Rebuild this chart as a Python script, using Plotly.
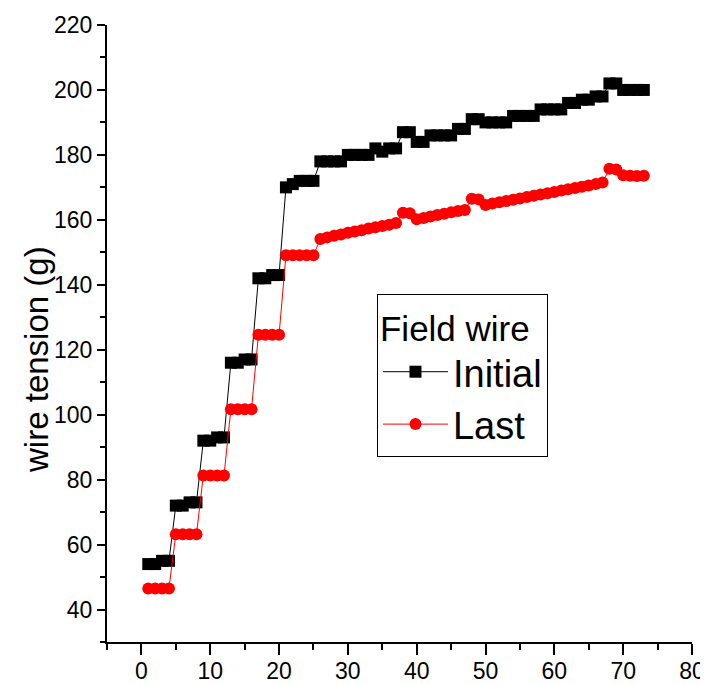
import plotly.graph_objects as go

x_vals = list(range(1, 74))

initial = [54, 54, 55, 55,
           72, 72, 73, 73,
           92, 92, 93, 93,
           116, 116, 117, 117,
           142, 142, 143, 143,
           170, 171, 172, 172, 172,
           178, 178, 178, 178,
           180, 180, 180, 180,
           182, 181, 182, 182,
           187, 187,
           184, 184,
           186, 186, 186, 186,
           188, 188,
           191, 191,
           190, 190, 190, 190,
           192, 192, 192, 192,
           194, 194, 194, 194,
           196, 196,
           197, 197,
           198, 198,
           202, 202,
           200, 200, 200, 200]

last = [46.5, 46.5, 46.5, 46.5,
        63.2, 63.2, 63.2, 63.2,
        81.3, 81.3, 81.3, 81.3,
        101.7, 101.7, 101.7, 101.7,
        124.6, 124.6, 124.6, 124.6,
        149.1, 149.1, 149.1, 149.1, 149.1,
        154.1, 154.6, 155.1, 155.5, 156.0, 156.4, 156.8, 157.3, 157.7, 158.1, 158.5, 159.0,
        162.2, 162.0,
        160.2, 160.6, 161.0, 161.5, 161.9, 162.3, 162.7, 163.0,
        166.5, 166.3,
        164.6, 165.0, 165.4, 165.8, 166.2, 166.6, 167.0, 167.4, 167.8,
        168.2, 168.6, 169.0, 169.4, 169.8, 170.2, 170.6, 171.0, 171.5,
        175.7, 175.5,
        173.7, 173.6, 173.5, 173.6]

y_ticks = [40, 60, 80, 100, 120, 140, 160, 180, 200, 220]
x_ticks = [0, 10, 20, 30, 40, 50, 60, 70, 80]
y_title = "wire tension (g)"

sans = "Liberation Sans, Arial, sans-serif"

fig = go.Figure()
fig.add_trace(go.Scatter(
    x=x_vals, y=initial, name="Initial", mode="lines+markers",
    line=dict(color="black", width=1),
    marker=dict(symbol="square", size=12, color="black"),
))
fig.add_trace(go.Scatter(
    x=x_vals, y=last, name="Last", mode="lines+markers",
    line=dict(color="#ff0000", width=1),
    marker=dict(symbol="circle", size=12, color="#ff0000"),
))

# page body has an 8px margin: figure shifted by 8px, so left/top margins are reduced by 8
fig.update_layout(
    width=700, height=677,
    margin=dict(l=99, r=16, t=17, b=43, autoexpand=False),
    paper_bgcolor="white", plot_bgcolor="white",
    font=dict(family=sans, color="black"),
    showlegend=True,
    legend=dict(
        x=0.4615, y=0.564, xanchor="left", yanchor="top",
        bordercolor="black", borderwidth=1, bgcolor="white",
        font=dict(family=sans, size=38, color="black"),
        title=dict(text="Field wire", font=dict(family=sans, size=35, color="black")),
        itemwidth=65,
        tracegroupgap=0,
    ),
    xaxis=dict(
        range=[-5, 80], tickvals=x_ticks, ticktext=[str(v) for v in x_ticks],
        showgrid=False, zeroline=False, automargin=False,
        showline=True, linecolor="black", linewidth=2,
        ticks="outside", ticklen=11, tickwidth=2, tickcolor="black",
        minor=dict(dtick=5, tick0=0, ticks="outside", ticklen=6, tickwidth=2, tickcolor="black", showgrid=False),
        tickfont=dict(family=sans, size=23, color="black"),
        ticklabelstandoff=-4,
    ),
    yaxis=dict(
        range=[30, 220], tickvals=y_ticks, ticktext=[str(v) for v in y_ticks],
        showgrid=False, zeroline=False, automargin=False,
        showline=True, linecolor="black", linewidth=2,
        ticks="outside", ticklen=8, tickwidth=2, tickcolor="black",
        minor=dict(dtick=10, tick0=0, ticks="outside", ticklen=5, tickwidth=2, tickcolor="black", showgrid=False),
        tickfont=dict(family=sans, size=23, color="black"),
    ),
    annotations=[dict(
        text=y_title, textangle=-90, showarrow=False,
        xref="paper", yref="paper", x=-0.1197, y=0.4587,
        xanchor="center", yanchor="middle",
        font=dict(family=sans, size=33, color="black"),
    )],
)

fig.write_html("out.html")
